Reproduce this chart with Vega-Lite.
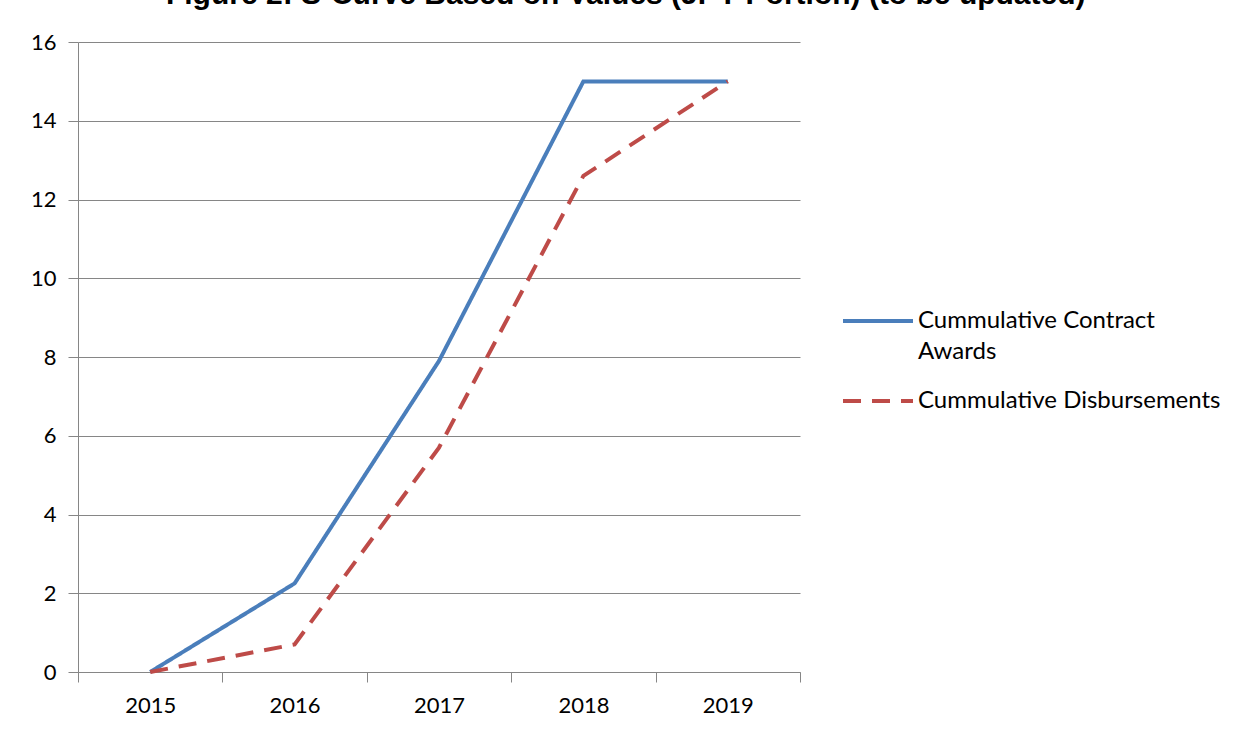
{
  "$schema": "https://vega.github.io/schema/vega-lite/v6.json",
  "autosize": "none",
  "width": 722,
  "height": 630,
  "padding": {"left": 78, "top": 42, "right": 446, "bottom": 59},
  "background": "white",
  "title": {
    "text": "Figure 2: S-Curve Based on Values (JPY Portion) (to be updated)",
    "font": "Liberation Sans",
    "fontSize": 30,
    "fontWeight": "bold",
    "color": "#000000",
    "anchor": "middle",
    "frame": "bounds",
    "baseline": "alphabetic",
    "offset": 0,
    "dy": 3
  },
  "data": {
    "values": [
      {"year": "2015", "series": "Cummulative Contract Awards", "value": 0},
      {"year": "2016", "series": "Cummulative Contract Awards", "value": 2.25},
      {"year": "2017", "series": "Cummulative Contract Awards", "value": 7.9},
      {"year": "2018", "series": "Cummulative Contract Awards", "value": 15},
      {"year": "2019", "series": "Cummulative Contract Awards", "value": 15},
      {"year": "2015", "series": "Cummulative Disbursements", "value": 0},
      {"year": "2016", "series": "Cummulative Disbursements", "value": 0.7},
      {"year": "2017", "series": "Cummulative Disbursements", "value": 5.7},
      {"year": "2018", "series": "Cummulative Disbursements", "value": 12.6},
      {"year": "2019", "series": "Cummulative Disbursements", "value": 15}
    ]
  },
  "mark": {"type": "line", "strokeWidth": 4, "strokeCap": "butt", "strokeJoin": "miter"},
  "encoding": {
    "x": {
      "field": "year",
      "type": "ordinal",
      "bandPosition": 0.5,
      "scale": {"type": "band", "paddingInner": 0, "paddingOuter": 0},
      "axis": {
        "title": null,
        "labelAngle": 0,
        "tickBand": "extent",
        "tickSize": 10,
        "tickColor": "#868686",
        "domainColor": "#868686",
        "labelFont": "Lato",
        "labelFontSize": 22,
        "labelColor": "#000000",
        "labelPadding": 13,
        "grid": false
      }
    },
    "y": {
      "field": "value",
      "type": "quantitative",
      "scale": {"domain": [0, 16], "nice": false},
      "axis": {
        "title": null,
        "values": [0, 2, 4, 6, 8, 10, 12, 14, 16],
        "tickSize": 10,
        "tickColor": "#868686",
        "domainColor": "#868686",
        "gridColor": "#868686",
        "gridWidth": 1,
        "labelFont": "Lato",
        "labelFontSize": 22,
        "labelColor": "#000000",
        "labelPadding": 12
      }
    },
    "color": {
      "field": "series",
      "type": "nominal",
      "scale": {"domain": ["Cummulative Contract Awards", "Cummulative Disbursements"], "range": ["#4A7EBB", "#BE4B48"]},
      "legend": {
        "title": null,
        "orient": "none",
        "legendX": 763,
        "legendY": 242,
        "symbolType": "stroke",
        "symbolSize": 4900,
        "symbolStrokeWidth": 4,
        "labelFont": "Lato",
        "labelFontSize": 24,
        "labelColor": "#000000",
        "labelLimit": 400,
        "labelOffset": 3,
        "rowPadding": 0,
        "labelExpr": "datum.label == 'Cummulative Contract Awards' ? ['Cummulative Contract', 'Awards'] : datum.label",
        "encode": {"labels": {"update": {"lineHeight": {"value": 31}}}}
      }
    },
    "strokeDash": {
      "field": "series",
      "type": "nominal",
      "scale": {"domain": ["Cummulative Contract Awards", "Cummulative Disbursements"], "range": [[1, 0], [18, 11]]},
      "legend": null
    }
  },
  "config": {"view": {"stroke": null}}
}
